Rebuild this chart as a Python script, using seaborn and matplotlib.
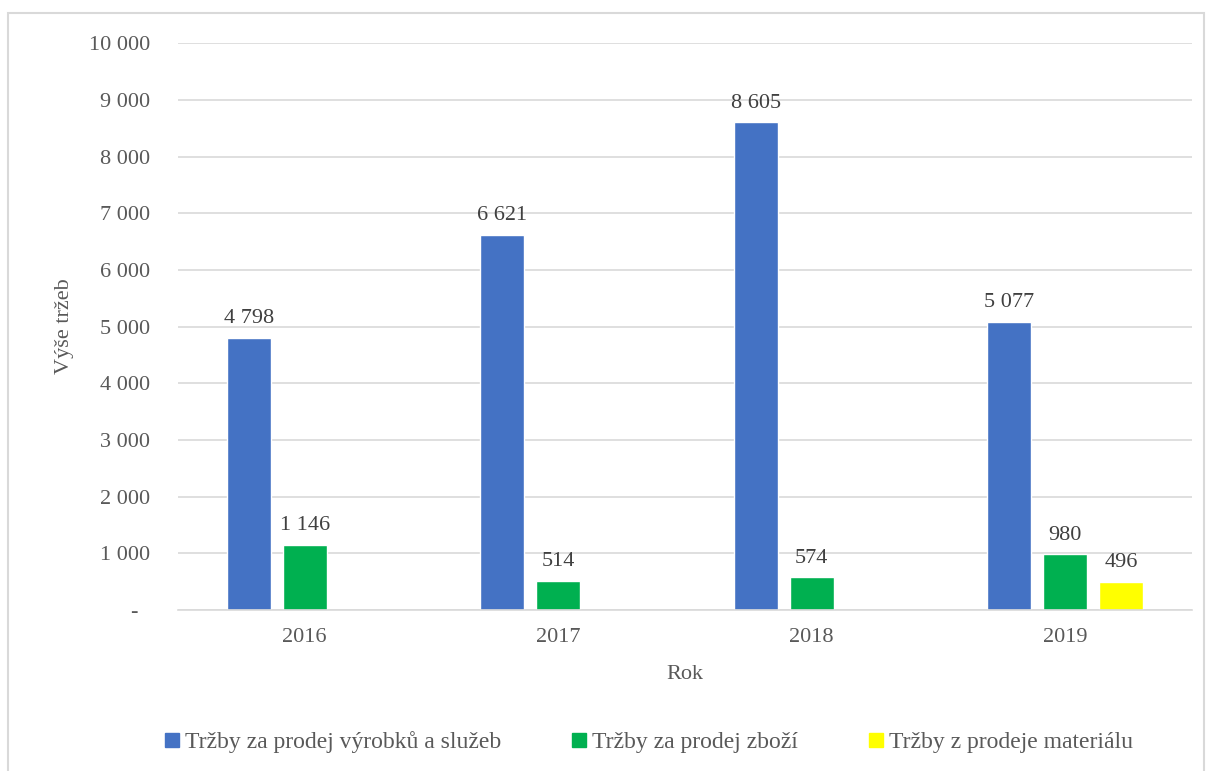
import numpy as np
import pandas as pd
import seaborn as sns
import matplotlib.pyplot as plt
from matplotlib.patches import Rectangle
from matplotlib.lines import Line2D

years = ['2016', '2017', '2018', '2019']
series = ['Tržby za prodej výrobků a služeb', 'Tržby za prodej zboží', 'Tržby z prodeje materiálu']
vyrobky = [4798, 6621, 8605, 5077]
zbozi = [1146, 514, 574, 980]
material = [None, None, None, 496]
colors = ['#4472C4', '#00B050', '#FFFF00']

rows = []
for name, vals in zip(series, [vyrobky, zbozi, material]):
    for y, v in zip(years, vals):
        if v is not None:
            rows.append({'Rok': y, 'serie': name, 'hodnota': v})
df = pd.DataFrame(rows)


def fmt(v):
    if v == 0:
        return '-  '
    return f'{int(v):,}'.replace(',', ' ')


sns.set_style('white')
plt.rcParams['font.family'] = ['Liberation Serif', 'DejaVu Serif']
txt = '#595959'

fig = plt.figure(figsize=(12.1, 7.71), dpi=100)
ax = fig.add_axes([0.147, 0.209, 0.838, 0.735])

sns.barplot(data=df, x='Rok', y='hodnota', hue='serie', order=years, hue_order=series,
            palette=colors, width=0.66, gap=0.21, errorbar=None, saturation=1,
            legend=False, ax=ax)

for cont in ax.containers:
    ax.bar_label(cont, labels=[fmt(b.get_height()) for b in cont], padding=7,
                 fontsize=16, color='#404040')

ax.set_ylim(0, 10000)
ax.set_xlim(-0.5, 3.5)
ticks = np.arange(0, 10001, 1000)
ax.set_yticks(ticks)
ax.set_yticklabels([fmt(t) for t in ticks])
ax.yaxis.grid(True, color='#D9D9D9', linewidth=1.2)
ax.set_axisbelow(True)
for s in ['top', 'right', 'left']:
    ax.spines[s].set_visible(False)
ax.spines['bottom'].set_color('#D9D9D9')
ax.spines['bottom'].set_linewidth(1.2)
ax.tick_params(axis='both', length=0, labelsize=16, labelcolor=txt)
ax.tick_params(axis='y', pad=20)
ax.tick_params(axis='x', pad=13)
ax.set_xlabel('Rok', fontsize=16, color=txt, labelpad=13)
ax.set_ylabel('Výše tržeb', fontsize=16, color=txt, labelpad=11)

handles = [Line2D([], [], marker='s', linestyle='none', markersize=10,
                  markerfacecolor=c, markeredgecolor=c) for c in colors]
fig.legend(handles, series, loc='center', bbox_to_anchor=(0.535, 0.037), ncol=3,
           frameon=False, fontsize=17, labelcolor=txt, handletextpad=0.15,
           columnspacing=2.9, handlelength=0.8)

fig.patches.append(Rectangle((8 / 1210, -10 / 771), 1196 / 1210, 768 / 771,
                             transform=fig.transFigure, fill=False,
                             edgecolor='#D9D9D9', linewidth=1.5))

fig.savefig('out.png', dpi=100)
